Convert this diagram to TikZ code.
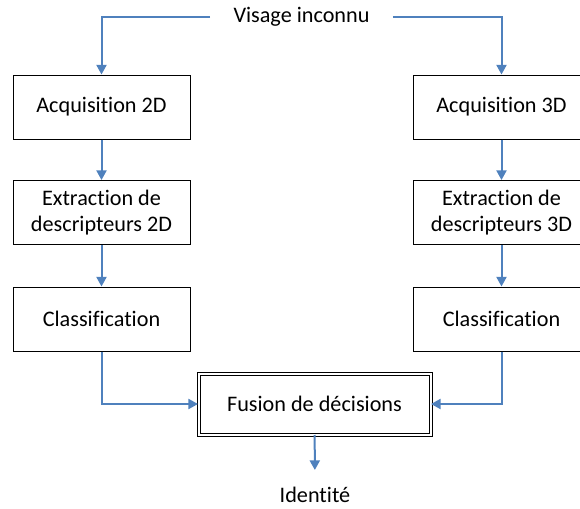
\documentclass[tikz,border=0pt]{standalone}
\usepackage{fontspec}
\setmainfont{Carlito}[Ligatures=NoCommon]
\usetikzlibrary{arrows.meta}
\definecolor{flowblue}{RGB}{79,129,189}
\tikzset{
  stage/.style={draw,rectangle,line width=0.5pt,minimum width=88.5pt,minimum height=32pt,align=center,inner sep=0pt},
  flow/.style={draw=flowblue,line width=1pt,-{Triangle[width=5pt,length=4.8pt]},fill=none},
}
\begin{document}
\begin{tikzpicture}[x=0.5pt,y=-0.5pt,font=\fontsize{11.1}{12.6}\selectfont]
\clip (0,0) rectangle (580,509);
\node[inner xsep=11.5pt,inner ysep=2pt] (VIS) at (301.5,17) {Visage inconnu};
% chaine 2D
\node[stage] (ACQA) at (101.5,107) {Acquisition 2D};
\node[stage] (EXTA) at (101.5,212.5) {Extraction de\\descripteurs 2D};
\node[stage] (CLSA) at (101.5,319) {Classification};
% chaine 3D
\node[stage] (ACQB) at (501.5,107) {Acquisition 3D};
\node[stage] (EXTB) at (501.5,212.5) {Extraction de\\descripteurs 3D};
\node[stage] (CLSB) at (501.5,319) {Classification};
% fusion
\node[draw,rectangle,line width=0.5pt,double,double distance=1pt,minimum width=116pt,minimum height=30.5pt] (FUS) at (314.5,404) {Fusion de décisions};
\node[anchor=north,inner ysep=8.5pt] (IDT) at (315,470) {Identité};
\draw[flow] (VIS.west) -| (ACQA);
\draw[flow] (VIS.east) -| (ACQB);
\draw[flow] (ACQA) -- (EXTA);
\draw[flow] (EXTA) -- (CLSA);
\draw[flow] (ACQB) -- (EXTB);
\draw[flow] (EXTB) -- (CLSB);
\draw[flow] (CLSA) |- (FUS);
\draw[flow] (CLSB) |- (FUS);
\draw[flow] (FUS) -- (IDT);
\end{tikzpicture}
\end{document}
